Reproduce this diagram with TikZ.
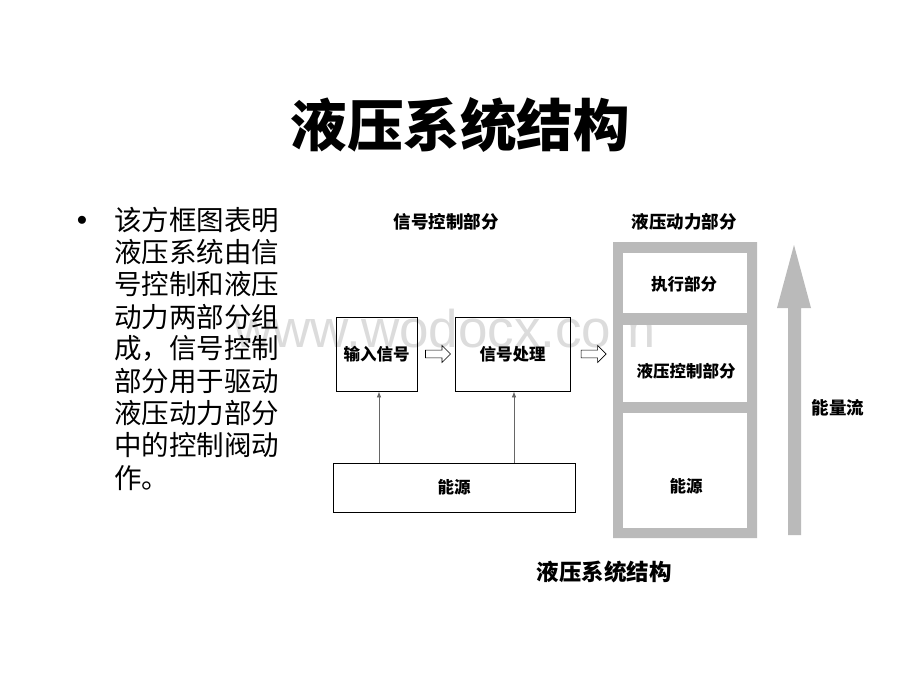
\documentclass[tikz,border=0pt]{standalone}
\usepackage{fontspec}
\newfontfamily\cjk{Noto Sans CJK SC}
\setsansfont{Liberation Sans}
\usetikzlibrary{shapes.arrows,arrows.meta,calc}
\definecolor{framegray}{RGB}{186,186,186}
\definecolor{wmgray}{RGB}{220,220,220}
\tikzset{
  box/.style={draw=black, line width=0.8pt, inner sep=0pt},
  lbl/.style={font=\cjk\bfseries\fontsize{16.5}{16.5}\selectfont, inner sep=0pt},
  head/.style={font=\cjk\bfseries\fontsize{17.5}{17.5}\selectfont, inner sep=0pt},
  bodytxt/.style={font=\cjk\fontsize{27.5}{27.5}\selectfont, anchor=west, inner sep=0pt},
  hollow/.style={single arrow, draw=black, line width=0.6pt, fill=white,
    minimum height=25pt, minimum width=17pt, single arrow head extend=4.5pt,
    inner sep=3.5pt},
  conn/.style={draw=black!60, line width=0.8pt, -{Latex[length=6pt,width=4.5pt]}},
  slot/.style={inner sep=0pt}
}
\begin{document}
\begin{tikzpicture}[x=1pt,y=-1pt]
\useasboundingbox[fill=white] (0,0) rectangle (920,690);
% watermark
\node[font=\sffamily\fontsize{53}{53}\selectfont, text=wmgray, anchor=base, inner sep=0pt] (wm) at (445,347) {www.wodocx.com};
% title
\node[font=\cjk\bfseries\fontsize{56.5}{56.5}\selectfont, inner sep=0pt] (title) at (460,125) {液压系统结构};
% bullet text
\node[font=\fontsize{22}{22}\selectfont, inner sep=0pt] (bul) at (82,221) {$\bullet$};
\foreach \t [count=\i from 0] in {该方框图表明,液压系统由信,号控制和液压,动力两部分组,成，信号控制,部分用于驱动,液压动力部分,中的控制阀动,作。}{
  \node[bodytxt] (line\i) at (114,{220+32.2*\i}) {\t};
}
% headings
\node[head] (hsig) at (446,222) {信号控制部分};
\node[head] (hhyd) at (684,222) {液压动力部分};
% signal part
\node[box, minimum width=81pt, minimum height=74pt] (in1) at (376.5,354) {};
\node[lbl] at (in1) {输入信号};
\node[box, minimum width=115pt, minimum height=74pt] (proc) at (512.5,354) {};
\node[lbl] at (proc) {信号处理};
\node[box, minimum width=242pt, minimum height=49pt] (src) at (454,487.5) {};
\node[lbl] at (src) {能源};
\node[hollow] (ha1) at ($(in1.east)!0.5!(proc.west)$) {};
\coordinate (frameL) at (613,354);
\node[hollow] (ha2) at ($(proc.east)!0.5!(frameL)$) {};
\draw[conn] ($(src.north -| in1.south)+(2.5,0)$) -- ($(in1.south)+(2.5,0)$);
\draw[conn] ($(src.north -| proc.south)+(1.5,0)$) -- ($(proc.south)+(1.5,0)$);
% hydraulic power part
\node[slot, minimum width=124pt, minimum height=60pt] (act) at (685,283) {};
\node[slot, minimum width=124pt, minimum height=77pt] (hctl) at (685,363.5) {};
\node[slot, minimum width=124pt, minimum height=115pt] (src2) at (685,470.5) {};
\fill[framegray, even odd rule] (613,242) rectangle (757,538)
  (act.south west) rectangle (act.north east)
  (hctl.south west) rectangle (hctl.north east)
  (src2.south west) rectangle (src2.north east);
\node[lbl] at (684,284) {执行部分};
\node[lbl] at (686,371) {液压控制部分};
\node[lbl] at (686,486) {能源};
% energy flow arrow
\fill[framegray] (788,535) -- (788,308) -- (777,308) -- (794,245) -- (811,308) -- (801,308) -- (801,535) -- cycle;
\node[head] (eflow) at (838,408) {能量流};
% caption
\node[font=\cjk\bfseries\fontsize{22.5}{22.5}\selectfont, inner sep=0pt] (cap) at (604,572) {液压系统结构};
\end{tikzpicture}
\end{document}
